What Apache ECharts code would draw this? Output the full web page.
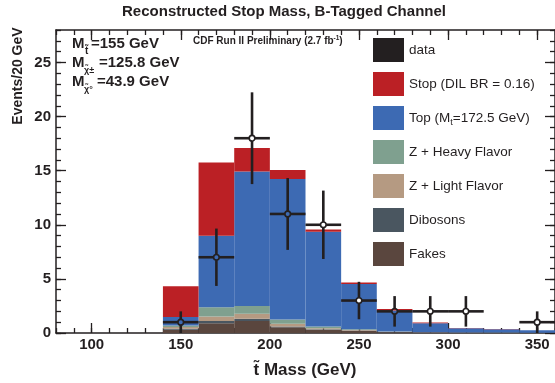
<!DOCTYPE html>
<html>
<head>
<meta charset="utf-8">
<script src="https://cdn.jsdelivr.net/npm/echarts@6/dist/echarts.min.js"></script>
<style>
  html, body { margin: 0; padding: 0; background: #fff; }
  #chart { width: 555px; height: 383px; }
</style>
</head>
<body>
<div id="chart"></div>
<script>
//////////// data ////////////
// histogram bins, 20 GeV wide (left edges)
var binStart = [140, 160, 180, 200, 220, 240, 260, 280, 300, 320, 340];
var binWidth = 20;

// stacked backgrounds, bottom to top
var fakes    = [0.30, 0.91, 1.10, 0.54, 0.30, 0.20, 0.08, 0.04, 0.02, 0.02, 0.01];
var dibosons = [0.10, 0.19, 0.22, 0.06, 0.05, 0.03, 0.02, 0.01, 0.01, 0.01, 0.01];
var zLight   = [0.15, 0.43, 0.46, 0.25, 0.10, 0.05, 0.02, 0.01, 0.01, 0.00, 0.00];
var zHeavy   = [0.15, 0.86, 0.71, 0.40, 0.15, 0.07, 0.03, 0.02, 0.01, 0.01, 0.01];
var topQ     = [0.77, 6.59, 12.43, 12.99, 8.75, 4.18, 1.94, 0.83, 0.40, 0.31, 0.23];
var stop     = [2.84, 6.77, 2.17, 0.83, 0.22, 0.13, 0.12, 0.05, 0.02, 0.01, 0.00];

// observed data points
var dataX   = [150, 170, 190, 210, 230, 250, 270, 290, 310, 350];
var dataY   = [1, 7, 18, 11, 10, 3, 2, 2, 2, 1];
var dataErr = [1, 2.65, 4.24, 3.32, 3.16, 1.73, 1.41, 1.41, 1.41, 1];

// axis ticks
var xMajor = [100, 150, 200, 250, 300, 350];
var yMajor = [0, 5, 10, 15, 20, 25];

//////////// style ////////////
var ink = '#231f20';
var font = 'Liberation Sans, Arial, sans-serif';
var whiteFilled = [190, 230, 250, 290, 310, 350]; // markers drawn with white centre

//////////// build ////////////
function $each(arr, fn) { for (var i = 0; i < arr.length; i++) fn(i, arr[i]); }

// stacked rects : [x0, x1, base, top]
function stackRows(layers) {
	var rows = [];
	var base = binStart.map(function() { return 0; });
	layers.forEach(function(arr) {
		var r = [];
		$each(arr, function(i, v) {
			r.push([binStart[i], binStart[i] + binWidth, base[i], base[i] + v]);
			base[i] += v;
		});
		rows.push(r);
	});
	return rows;
}

var rows = stackRows([fakes, dibosons, zLight, zHeavy, topQ, stop]);

function histItem(params, api) {
	var p0 = api.coord([api.value(0), api.value(2)]);
	var p1 = api.coord([api.value(1), api.value(3)]);
	return {
		type: 'rect',
		shape: { x: p0[0], y: p1[1], width: p1[0] - p0[0], height: p0[1] - p1[1] },
		style: { fill: api.visual('color') }
	};
}

function histSeries(name, color, data, z) {
	return {
		name: name,
		type: 'custom',
		renderItem: histItem,
		encode: { x: [0, 1], y: [2, 3] },
		itemStyle: { color: color },
		data: data,
		z: z,
		clip: true,
		silent: true
	};
}

// data point : open circle + error bars
function pointItem(params, api) {
	var x = api.value(0), y = api.value(1), e = api.value(2);
	var c = api.coord([x, y]);
	var l = api.coord([x - binWidth / 2, y]);
	var rt = api.coord([x + binWidth / 2, y]);
	var up = api.coord([x, y + e]);
	var dn = api.coord([x, Math.max(0, y - e)]);
	var r = 2.8;
	var ls = { stroke: ink, lineWidth: 2.6 };
	var fill = whiteFilled.indexOf(x) >= 0 ? '#ffffff' : 'transparent';
	return {
		type: 'group',
		children: [
			{ type: 'line', shape: { x1: l[0], y1: c[1], x2: c[0] - r, y2: c[1] }, style: ls },
			{ type: 'line', shape: { x1: c[0] + r, y1: c[1], x2: rt[0], y2: c[1] }, style: ls },
			{ type: 'line', shape: { x1: c[0], y1: up[1], x2: c[0], y2: c[1] - r }, style: ls },
			{ type: 'line', shape: { x1: c[0], y1: c[1] + r, x2: c[0], y2: dn[1] }, style: ls },
			{ type: 'circle', shape: { cx: c[0], cy: c[1], r: r }, style: { fill: fill, stroke: ink, lineWidth: 1.6 } }
		]
	};
}

var points = [];
$each(dataX, function(i, x) { points.push([x, dataY[i], dataErr[i]]); });

// axes : minor axis (ticks every 10 / 1) + major axis (ticks on labels)
function xAx(pos, major, label) {
	return {
		type: 'value', position: pos, min: 80, max: 360,
		interval: major ? undefined : 10,
		axisLine: { show: !major, onZero: false, lineStyle: { color: ink, width: 1.5 } },
		axisTick: major
			? { inside: true, length: 10, customValues: xMajor, lineStyle: { color: ink, width: 1.3 } }
			: { inside: true, length: 5, lineStyle: { color: ink, width: 1.3 } },
		axisLabel: label
			? { customValues: xMajor, color: ink, fontFamily: font, fontWeight: 'bold', fontSize: 15, margin: 4 }
			: { show: false },
		splitLine: { show: false }
	};
}
function yAx(pos, major, label) {
	return {
		type: 'value', position: pos, min: 0, max: 28,
		interval: major ? undefined : 1,
		axisLine: { show: !major, onZero: false, lineStyle: { color: ink, width: 1.5 } },
		axisTick: major
			? { inside: true, length: 10, customValues: yMajor, lineStyle: { color: ink, width: 1.3 } }
			: { inside: true, length: 5, lineStyle: { color: ink, width: 1.3 } },
		axisLabel: label
			? { customValues: yMajor, color: ink, fontFamily: font, fontWeight: 'bold', fontSize: 15, margin: 5 }
			: { show: false },
		splitLine: { show: false }
	};
}

var legendNames = ['data', 'Stop (DIL BR = 0.16)', 'Top', 'Z + Heavy Flavor', 'Z + Light Flavor', 'Dibosons', 'Fakes'];

function txt(x, y, s, size, extra) {
	var st = { text: s, fontFamily: font, fontWeight: 'bold', fontSize: size, fill: ink, align: 'left', verticalAlign: 'middle' };
	for (var k in extra) st[k] = extra[k];
	return { type: 'text', x: x, y: y, style: st, z: 100 };
}

var option = {
	animation: false,
	backgroundColor: '#ffffff',
	grid: { left: 56, right: -3, top: 30, bottom: 50 },
	xAxis: [xAx('bottom', false, true), xAx('bottom', true, false), xAx('top', false, false), xAx('top', true, false)],
	yAxis: [yAx('left', false, true), yAx('left', true, false), yAx('right', false, false), yAx('right', true, false)],
	legend: {
		data: legendNames,
		orient: 'vertical',
		left: 368, top: 33,
		icon: 'rect',
		itemWidth: 31, itemHeight: 24, itemGap: 10,
		selectedMode: false,
		formatter: function(name) {
			if (name === 'Top') return '{n|Top (M}{s|t}{n|=172.5 GeV)}';
			return '{n|' + name + '}';
		},
		textStyle: {
			rich: {
				n: { fontFamily: font, fontSize: 13.5, color: ink },
				s: { fontFamily: font, fontSize: 9, color: ink, padding: [9, 0, 0, 0] }
			}
		}
	},
	graphic: [
		txt(284, 12, 'Reconstructed Stop Mass, B-Tagged Channel', 15, { align: 'center' }),
		{ type: 'text', x: 18, y: 76, rotation: Math.PI / 2, z: 100,
		  style: { text: 'Events/20 GeV', fontFamily: font, fontWeight: 'bold', fontSize: 14, fill: ink, align: 'center', verticalAlign: 'middle' } },
		txt(305, 370, 't\u0303 Mass (GeV)', 17, { align: 'center' }),
		txt(193, 41, '{a|CDF Run II Preliminary (2.7 fb}{b|-1}{a|)}', 10, {
			rich: {
				a: { fontFamily: font, fontWeight: 'bold', fontSize: 10, fill: ink },
				b: { fontFamily: font, fontWeight: 'bold', fontSize: 6.5, fill: ink, padding: [0, 0, 6, 0] }
			}
		}),
		txt(72, 44, 'M', 15),
		txt(85, 51, 't\u0303', 10),
		txt(91, 44, '=155 GeV', 15),
		txt(72, 63, 'M', 15),
		txt(84, 71, '\u03c7\u0303\u00b1', 9),
		txt(99, 63, '=125.8 GeV', 15),
		txt(72, 82, 'M', 15),
		txt(84, 90, '\u03c7\u0303\u00b0', 9),
		txt(97, 82, '=43.9 GeV', 15)
	],
	series: [
		{
			name: 'data', type: 'custom', renderItem: pointItem,
			encode: { x: 0, y: 1 },
			itemStyle: { color: ink },
			data: points, z: 20, clip: false, silent: true
		},
		histSeries('Stop (DIL BR = 0.16)', '#bb2025', rows[5], 6),
		histSeries('Top', '#3d6ab3', rows[4], 5),
		histSeries('Z + Heavy Flavor', '#7fa08f', rows[3], 4),
		histSeries('Z + Light Flavor', '#b59a82', rows[2], 3),
		histSeries('Dibosons', '#4a5660', rows[1], 2),
		histSeries('Fakes', '#5a463e', rows[0], 1)
	]
};

var chart = echarts.init(document.getElementById('chart'));
chart.setOption(option);
</script>
</body>
</html>
